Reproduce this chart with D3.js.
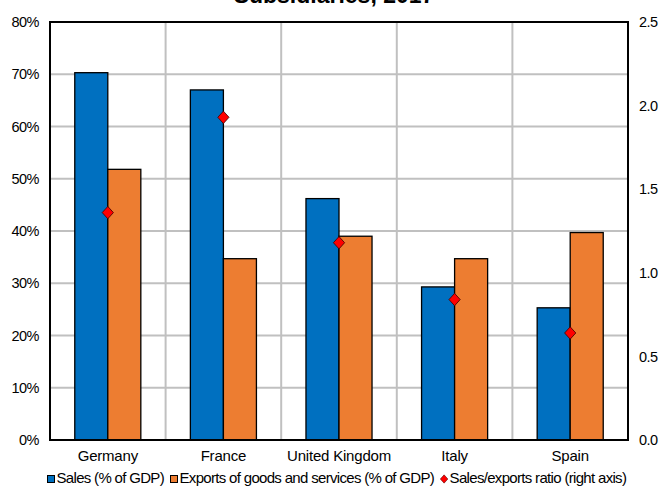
<!DOCTYPE html>
<html>
<head>
<meta charset="utf-8">
<script src="https://cdn.jsdelivr.net/npm/d3@7"></script>
<style>
  html, body { margin: 0; padding: 0; background: #fff; }
  svg { display: block; font-family: "Liberation Sans", Arial, sans-serif; }
</style>
</head>
<body>
<svg id="chart" width="661" height="491"></svg>
<script>
// Categories and series
const countries = ["Germany", "France", "United Kingdom", "Italy", "Spain"];
const salesPct = [70.3, 67.0, 46.2, 29.3, 25.3];
const exportsPct = [51.8, 34.7, 39.0, 34.7, 39.7];
const salesExportsRatio = [1.36, 1.93, 1.18, 0.84, 0.64];
const leftTicks = [0, 10, 20, 30, 40, 50, 60, 70, 80];
const rightTicks = [0, 0.5, 1.0, 1.5, 2.0, 2.5];
const seriesNames = ["Sales (% of GDP)", "Exports of goods and services (% of GDP)", "Sales/exports ratio (right axis)"];

const BLUE = "#0070c0", ORANGE = "#ed7d31", RED = "#ff0000", GRID = "#c0c0c0";
const FONT = "Liberation Sans, Arial, sans-serif";

const svg = d3.select("#chart");
const plot = { left: 50, right: 628, top: 22, bottom: 440 };

const x = d3.scaleBand().domain(countries).range([plot.left, plot.right]).paddingInner(0).paddingOuter(0);
const inner = d3.scaleBand().domain(["sales", "exports"]).range([0, x.bandwidth()]).paddingInner(0).paddingOuter(0.75);
const yL = d3.scaleLinear().domain([0, 80]).range([plot.bottom, plot.top]);
const yR = d3.scaleLinear().domain([0, 2.5]).range([plot.bottom, plot.top]);

// Title (last line)
svg.append("text")
  .attr("x", 334).attr("y", 3)
  .attr("text-anchor", "middle")
  .attr("font-weight", "bold").attr("font-size", 23)
  .attr("fill", "#000")
  .text("Subsidiaries, 2017");

// Horizontal gridlines
svg.append("g")
  .selectAll("line").data(leftTicks.filter(d => d > 0 && d < 80)).join("line")
  .attr("x1", plot.left).attr("x2", plot.right)
  .attr("y1", d => yL(d)).attr("y2", d => yL(d))
  .attr("stroke", GRID).attr("stroke-width", 2);

// Vertical gridlines between categories
svg.append("g")
  .selectAll("line").data(countries.slice(1)).join("line")
  .attr("x1", d => x(d)).attr("x2", d => x(d))
  .attr("y1", plot.top).attr("y2", plot.bottom)
  .attr("stroke", GRID).attr("stroke-width", 2);

// Bars
const groups = svg.append("g").selectAll("g").data(countries).join("g")
  .attr("transform", d => `translate(${x(d)},0)`);

groups.append("rect")
  .attr("x", inner("sales"))
  .attr("width", inner.bandwidth())
  .attr("y", (d, i) => yL(salesPct[i]))
  .attr("height", (d, i) => yL(0) - yL(salesPct[i]))
  .attr("fill", BLUE).attr("stroke", "#000").attr("stroke-width", 1.3);

groups.append("rect")
  .attr("x", inner("exports"))
  .attr("width", inner.bandwidth())
  .attr("y", (d, i) => yL(exportsPct[i]))
  .attr("height", (d, i) => yL(0) - yL(exportsPct[i]))
  .attr("fill", ORANGE).attr("stroke", "#000").attr("stroke-width", 1.3);

// Ratio markers (right axis)
const diamond = d3.symbol().type(d3.symbolDiamond2).size(80);
svg.append("g").selectAll("path").data(countries).join("path")
  .attr("d", diamond)
  .attr("transform", (d, i) => `translate(${x(d) + x.bandwidth() / 2},${yR(salesExportsRatio[i])}) scale(1,1.1)`)
  .attr("fill", RED).attr("stroke", "#400").attr("stroke-width", 0.8);

// Plot frame
svg.append("rect")
  .attr("x", plot.left).attr("y", plot.top)
  .attr("width", plot.right - plot.left).attr("height", plot.bottom - plot.top)
  .attr("fill", "none").attr("stroke", "#000").attr("stroke-width", 2);

function styleTicks(g, size, spacing) {
  g.select(".domain").remove();
  g.selectAll("text").attr("font-size", size).attr("fill", "#000")
    .attr("font-family", FONT).attr("letter-spacing", spacing);
}

// Left axis
const axL = d3.axisLeft(yL).tickValues(leftTicks).tickSize(0).tickPadding(11).tickFormat(d => d + "%");
styleTicks(svg.append("g").attr("transform", `translate(${plot.left},0)`).call(axL), 14.5, -0.5);

// Right axis
const axR = d3.axisRight(yR).tickValues(rightTicks).tickSize(0).tickPadding(11).tickFormat(d3.format(".1f"));
styleTicks(svg.append("g").attr("transform", `translate(${plot.right},0)`).call(axR), 14.5, -0.5);

// Category axis
const axB = d3.axisBottom(x).tickSize(0).tickPadding(10);
styleTicks(svg.append("g").attr("transform", `translate(0,${plot.bottom})`).call(axB), 15, -0.2);

// Legend
const legend = svg.append("g").attr("transform", "translate(0,483)");
const legendItems = [
  { name: seriesNames[0], kind: "rect", color: BLUE },
  { name: seriesNames[1], kind: "rect", color: ORANGE },
  { name: seriesNames[2], kind: "diamond", color: RED }
];
let lx = 47;
legendItems.forEach(item => {
  if (item.kind === "rect") {
    legend.append("rect").attr("x", lx + 0.5).attr("y", -7.5).attr("width", 7).attr("height", 7)
      .attr("fill", item.color).attr("stroke", "#000").attr("stroke-width", 1);
  } else {
    legend.append("path").attr("d", d3.symbol().type(d3.symbolDiamond2).size(36))
      .attr("transform", `translate(${lx + 4},-4) scale(1,1.1)`)
      .attr("fill", item.color).attr("stroke", "#400").attr("stroke-width", 0.5);
  }
  lx += 9.5;
  const t = legend.append("text").attr("x", lx).attr("y", 0)
    .attr("font-size", 15).attr("letter-spacing", -0.68).attr("fill", "#000")
    .text(item.name);
  lx += t.node().getComputedTextLength() + 6;
});
</script>
</body>
</html>
